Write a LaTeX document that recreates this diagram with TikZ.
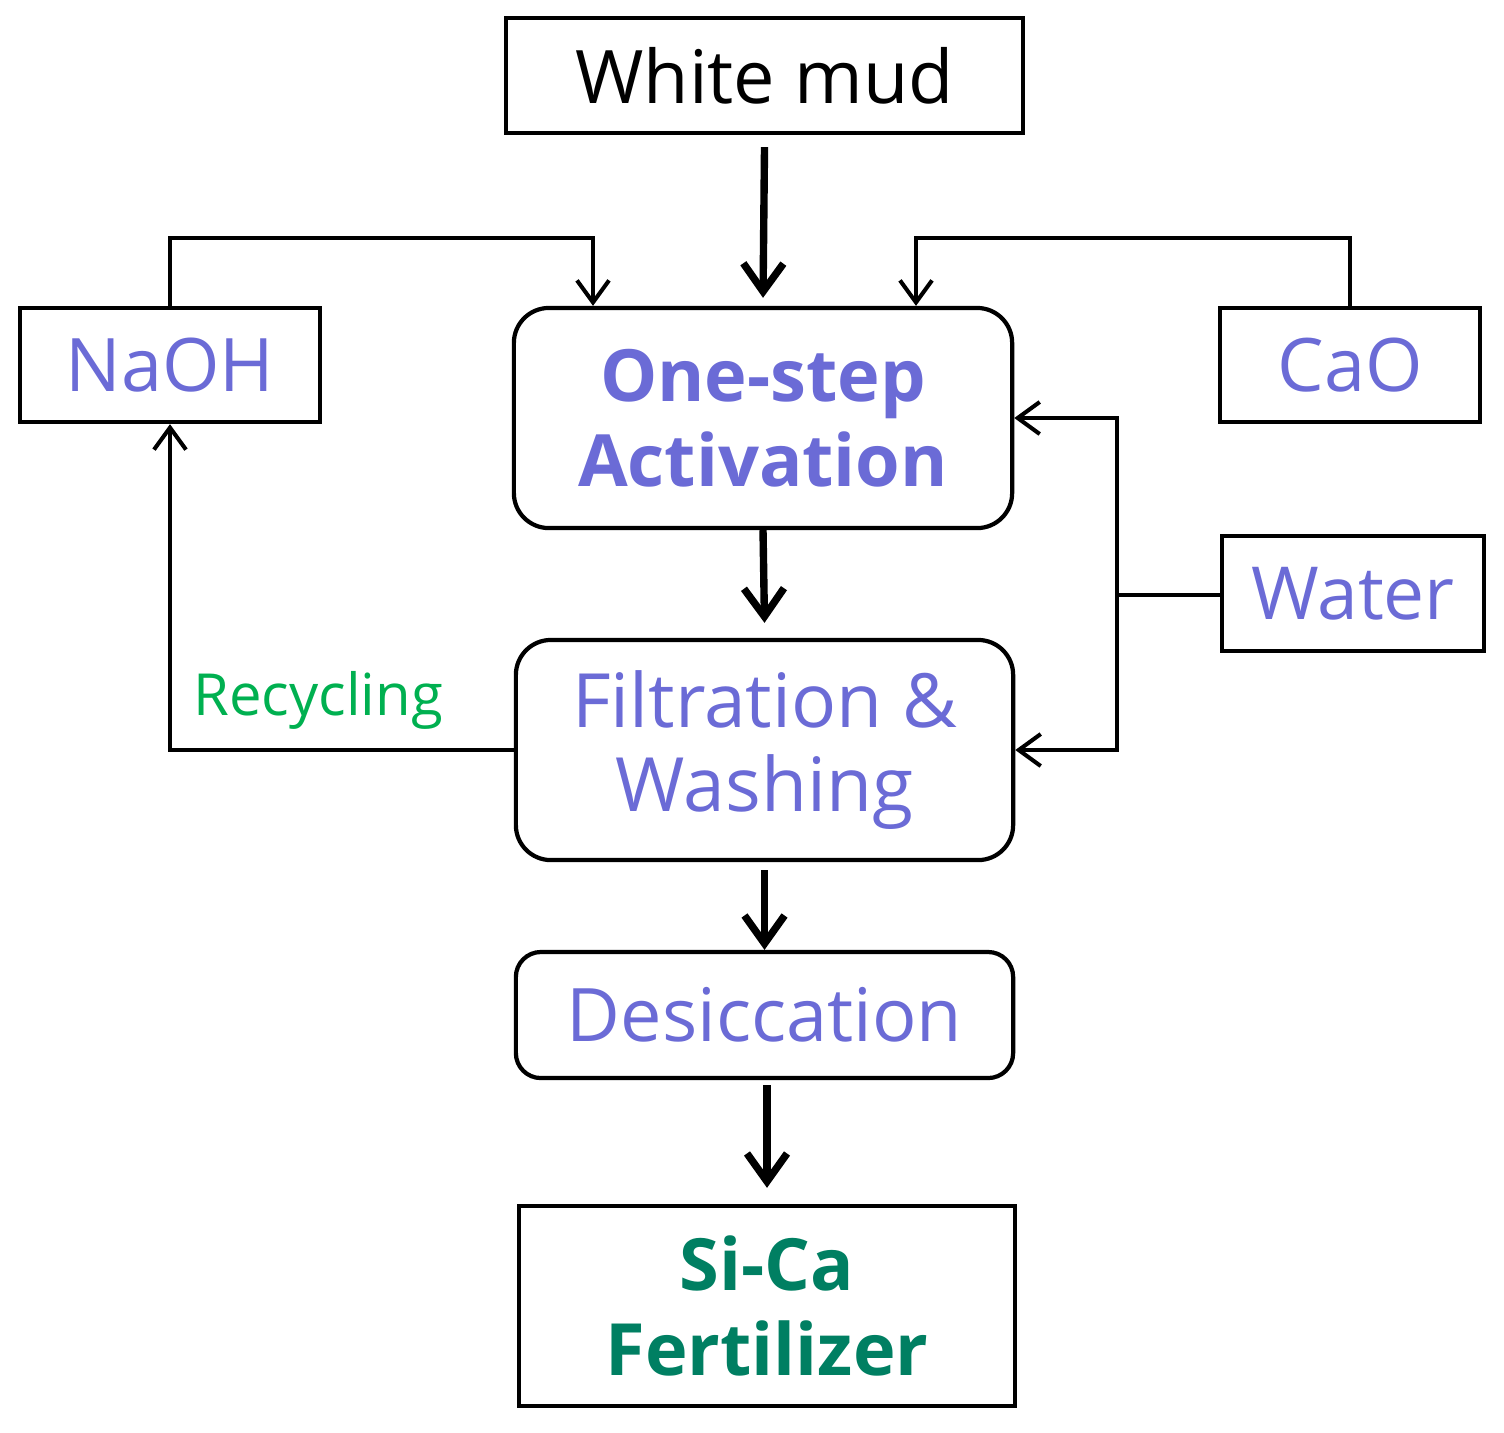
\documentclass[tikz,border=0pt]{standalone}
\usepackage{fontspec}
\setmainfont{Open Sans}
\usetikzlibrary{arrows.meta}
\definecolor{purp}{HTML}{6B6BD6}
\definecolor{recg}{HTML}{00B050}
\definecolor{dg}{HTML}{007F62}
\begin{document}
\begin{tikzpicture}[x=0.01cm,y=-0.01cm,
  box/.style={draw, line width=1.2pt, inner sep=0pt, align=center},
  rbox/.style={box, rounded corners=0.35cm},
  conn/.style={line width=1.15pt, -{Straight Barb[length=0.22cm,width=0.32cm]}},
  flow/.style={line width=2.1pt, -{Straight Barb[length=0.28cm,width=0.4cm]}},
  big/.style={font=\fontsize{21}{24}\selectfont},
  bigb/.style={font=\fontsize{20.5}{24}\selectfont\bfseries},
]
\useasboundingbox (0,0) rectangle (1504,1432);

\node[box, big, minimum width=5.17cm, minimum height=1.15cm] (wm) at (764.5,75.5) {White mud};
\node[rbox, bigb, text=purp, minimum width=4.98cm, minimum height=2.2cm] (one) at (763,418) {One-step\\Activation};
\node[box, big, text=purp, minimum width=3.0cm, minimum height=1.14cm] (naoh) at (170,365) {NaOH};
\node[box, big, text=purp, minimum width=2.6cm, minimum height=1.14cm] (cao) at (1350,365) {CaO};
\node[box, font=\fontsize{20.8}{24}\selectfont, text=purp, minimum width=2.62cm, minimum height=1.15cm] (water) at (1353,593.5) {Water};
\node[rbox, font=\fontsize{21.3}{24}\selectfont, text=purp, minimum width=4.97cm, minimum height=2.2cm] (filt) at (764.5,750) {Filtration \&\\Washing};
\node[rbox, rounded corners=0.25cm, font=\fontsize{21}{24}\selectfont, text=purp, minimum width=4.97cm, minimum height=1.26cm] (desc) at (764.5,1015) {Desiccation};
\node[box, font=\fontsize{20.5}{24}\selectfont\bfseries, text=dg, minimum width=4.96cm, minimum height=2.0cm] (sica) at (767,1306) {Si-Ca\\Fertilizer};
\node[font=\fontsize{16.5}{18}\selectfont, text=recg] (rec) at (318,700) {Recycling};

\coordinate (nt) at (593,238);
\coordinate (ct) at (916,238);
\coordinate (wj) at (1117,595);

\draw[flow] ([yshift=-0.12cm]wm.south) -- ([yshift=0.08cm]one.north);
\draw[flow] (one.south) -- ([yshift=0.15cm]filt.north);
\draw[flow] ([yshift=-0.08cm]filt.south) -- (desc.north);
\draw[flow] ([yshift=-0.05cm]sica.north |- desc.south) -- ([yshift=0.16cm]sica.north);

\draw[conn] (naoh.north) |- (nt) -- (nt |- one.north);
\draw[conn] (cao.north) |- (ct) -- (ct |- one.north);
\draw[line width=1.15pt] (water.west |- wj) -- (wj);
\draw[conn] (wj) |- (one.east);
\draw[conn] (wj) |- (filt.east);
\draw[conn] (filt.west) -| (naoh.south);
\end{tikzpicture}
\end{document}
